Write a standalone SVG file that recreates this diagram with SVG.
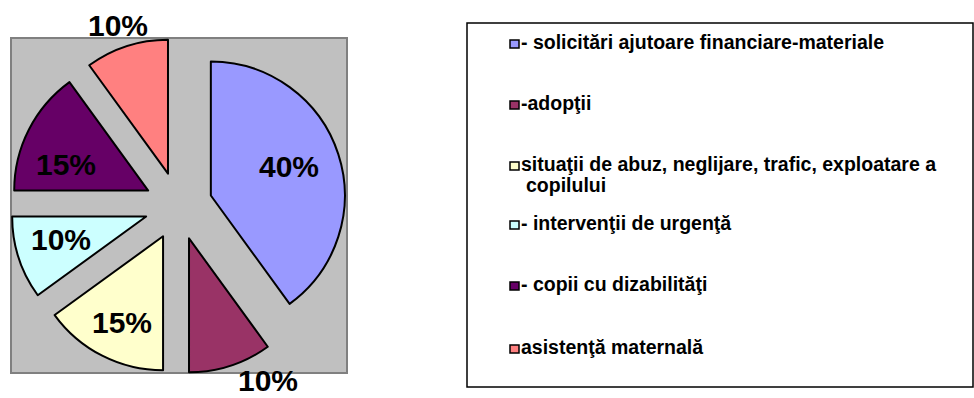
<svg xmlns="http://www.w3.org/2000/svg" width="974" height="398" viewBox="0 0 974 398">
<style>
.sl{stroke:#000;stroke-width:2;stroke-linejoin:round}
.pl{font-family:"Liberation Sans",Arial,sans-serif;font-weight:bold;font-size:30px;fill:#000;text-anchor:middle}
.lg{font-family:"Liberation Sans",Arial,sans-serif;font-weight:bold;font-size:19.5px;fill:#000}
.mk{stroke:#000;stroke-width:1.5}
</style>
<rect width="974" height="398" fill="#fff"/>
<rect id="plot-area" x="11" y="38" width="336" height="335" fill="#C0C0C0" stroke="#808080" stroke-width="2"/>
<g id="slice-solicitari">
<path class="sl" fill="#9999FF" d="M210.84,195.49 L210.84,61.49 A134,134 0 0 1 289.6,303.9 Z"/>
<text class="pl" x="289" y="177">40%</text>
</g>
<g id="slice-adoptii">
<path class="sl" fill="#993366" d="M189.01,238.34 L267.77,346.75 A134,134 0 0 1 189.01,372.34 Z"/>
<text class="pl" x="268" y="391">10%</text>
</g>
<g id="slice-situatii">
<path class="sl" fill="#FFFFCC" d="M163.06,236.29 L163.06,370.29 A134,134 0 0 1 54.65,315.05 Z"/>
<text class="pl" x="122" y="333">15%</text>
</g>
<g id="slice-interventii">
<path class="sl" fill="#CCFFFF" d="M146.16,216.51 L37.75,295.27 A134,134 0 0 1 12.16,216.51 Z"/>
<text class="pl" x="61" y="250">10%</text>
</g>
<g id="slice-dizabilitati">
<path class="sl" fill="#660066" d="M148.21,190.56 L14.21,190.56 A134,134 0 0 1 69.45,82.15 Z"/>
<text class="pl" x="66" y="175">15%</text>
</g>
<g id="slice-asistenta">
<path class="sl" fill="#FF8080" d="M167.99,173.66 L89.23,65.25 A134,134 0 0 1 167.99,39.66 Z"/>
<text class="pl" x="118" y="36">10%</text>
</g>
<g id="connectors"></g>
<g id="legend">
<rect x="467" y="23" width="506" height="364" fill="#fff" stroke="#000" stroke-width="1.5"/>
<g id="legend-1"><rect class="mk" x="510" y="40" width="9" height="8" fill="#9999FF"/><text class="lg" x="521" y="49">- solicitări ajutoare financiare-materiale</text></g>
<g id="legend-2"><rect class="mk" x="510" y="101" width="9" height="8" fill="#993366"/><text class="lg" x="521" y="110">-adopţii</text></g>
<g id="legend-3"><rect class="mk" x="510" y="162" width="9" height="8" fill="#FFFFCC"/><text class="lg" x="521" y="171">situaţii de abuz, neglijare, trafic, exploatare a</text><text class="lg" x="526" y="192">copilului</text></g>
<g id="legend-4"><rect class="mk" x="510" y="221" width="9" height="8" fill="#CCFFFF"/><text class="lg" x="521" y="230">- intervenţii de urgenţă</text></g>
<g id="legend-5"><rect class="mk" x="510" y="282" width="9" height="8" fill="#660066"/><text class="lg" x="521" y="291">- copii cu dizabilităţi</text></g>
<g id="legend-6"><rect class="mk" x="510" y="345" width="9" height="8" fill="#FF8080"/><text class="lg" x="521" y="354">asistenţă maternală</text></g>
</g>
</svg>
